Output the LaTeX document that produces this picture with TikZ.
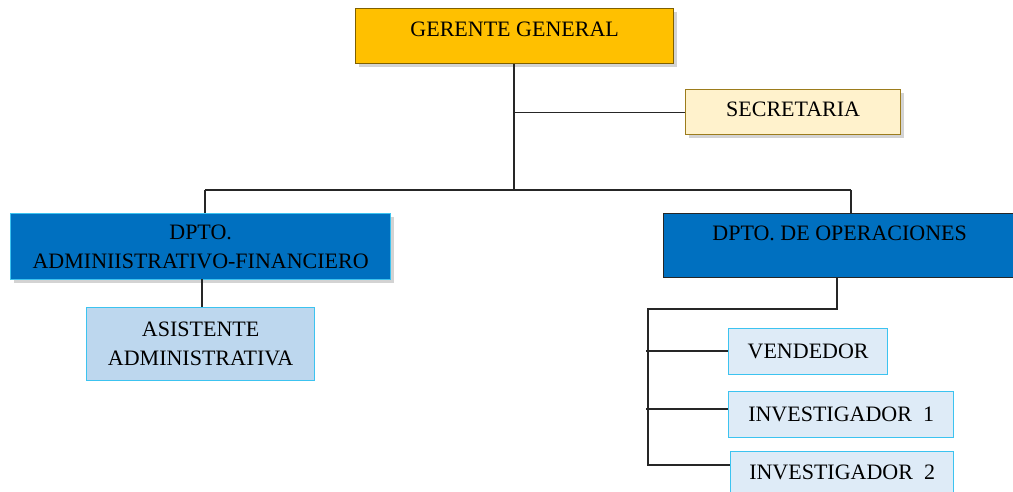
\documentclass[tikz,border=0pt]{standalone}
\usepackage{fontspec}
\setmainfont{Liberation Serif}
\usetikzlibrary{shadows}
\definecolor{gold}{HTML}{FFC000}
\definecolor{goldline}{HTML}{7F6000}
\definecolor{cream}{HTML}{FFF2CC}
\definecolor{creamline}{HTML}{9C7C1C}
\definecolor{deptblue}{HTML}{0070C0}
\definecolor{skyline}{HTML}{3CC3F0}
\definecolor{paleblue}{HTML}{BDD7EE}
\definecolor{lightblue}{HTML}{DEEBF7}
\tikzset{
  box/.style={rectangle, anchor=north west, inner sep=0pt, align=center,
    font=\fontsize{22}{29}\selectfont, line width=1.3pt},
  shade/.style={drop shadow={opacity=0.35, shadow xshift=3pt, shadow yshift=-3pt}},
  wire/.style={line width=1.2pt, draw=black!85},
}
\begin{document}
\begin{tikzpicture}[x=1pt, y=-1pt]
\useasboundingbox (0,0) rectangle (1013,492);

% top level
\node[box, shade, fill=gold, draw=goldline, minimum width=318pt, minimum height=55pt,
      text height=14.6pt, text depth=13pt] (gg) at (355,8) {GERENTE GENERAL};
\node[box, shade, fill=cream, draw=creamline, minimum width=215pt, minimum height=45pt,
      text height=14.6pt, text depth=5pt] (sec) at (685,89) {SECRETARIA};

% departments
\node[box, shade, fill=deptblue, draw=skyline, minimum width=380pt, minimum height=66pt]
      (adm) at (10,213) {DPTO.\\ADMINIISTRATIVO-FINANCIERO};
\node[box, fill=deptblue, draw=black!85, minimum width=352pt, minimum height=64pt,
      text height=14.6pt, text depth=24pt] (ops) at (663,213) {DPTO. DE OPERACIONES};

% staff
\node[box, fill=paleblue, draw=skyline, minimum width=228pt, minimum height=73pt]
      (asis) at (86,307) {ASISTENTE\\ADMINISTRATIVA};
\node[box, fill=lightblue, draw=skyline, minimum width=159pt, minimum height=46pt]
      (ven) at (728,328) {VENDEDOR};
\node[box, fill=lightblue, draw=skyline, minimum width=225pt, minimum height=46pt]
      (inv1) at (728,391) {INVESTIGADOR\ \ 1};
\node[box, fill=lightblue, draw=skyline, minimum width=223pt, minimum height=48pt,
      text height=14.6pt, text depth=6pt] (inv2) at (730,451) {INVESTIGADOR\ \ 2};

% connectors
\coordinate (trunk) at (514,190);
\coordinate (rail) at (648,309);
\coordinate (tv) at (646,351);
\coordinate (ti1) at (646,409);
\coordinate (ti2) at (648,465);
\draw[wire] (gg.south -| trunk) -- (trunk);
\draw[wire] (sec.west -| trunk) -- (sec.west);
\draw[wire] (205,190) -- (851,190);
\draw[wire] (205,190) -- (205,213);
\draw[wire] (851,190) -- (851,213);
\draw[wire] (202,279) -- (202,307);
\draw[wire] (837,277) -- (837,309) -- (rail) -- (ti2) -- (ti2 -| inv2.west);
\draw[wire] (tv) -- (tv -| ven.west);
\draw[wire] (ti1) -- (ti1 -| inv1.west);
\end{tikzpicture}
\end{document}
